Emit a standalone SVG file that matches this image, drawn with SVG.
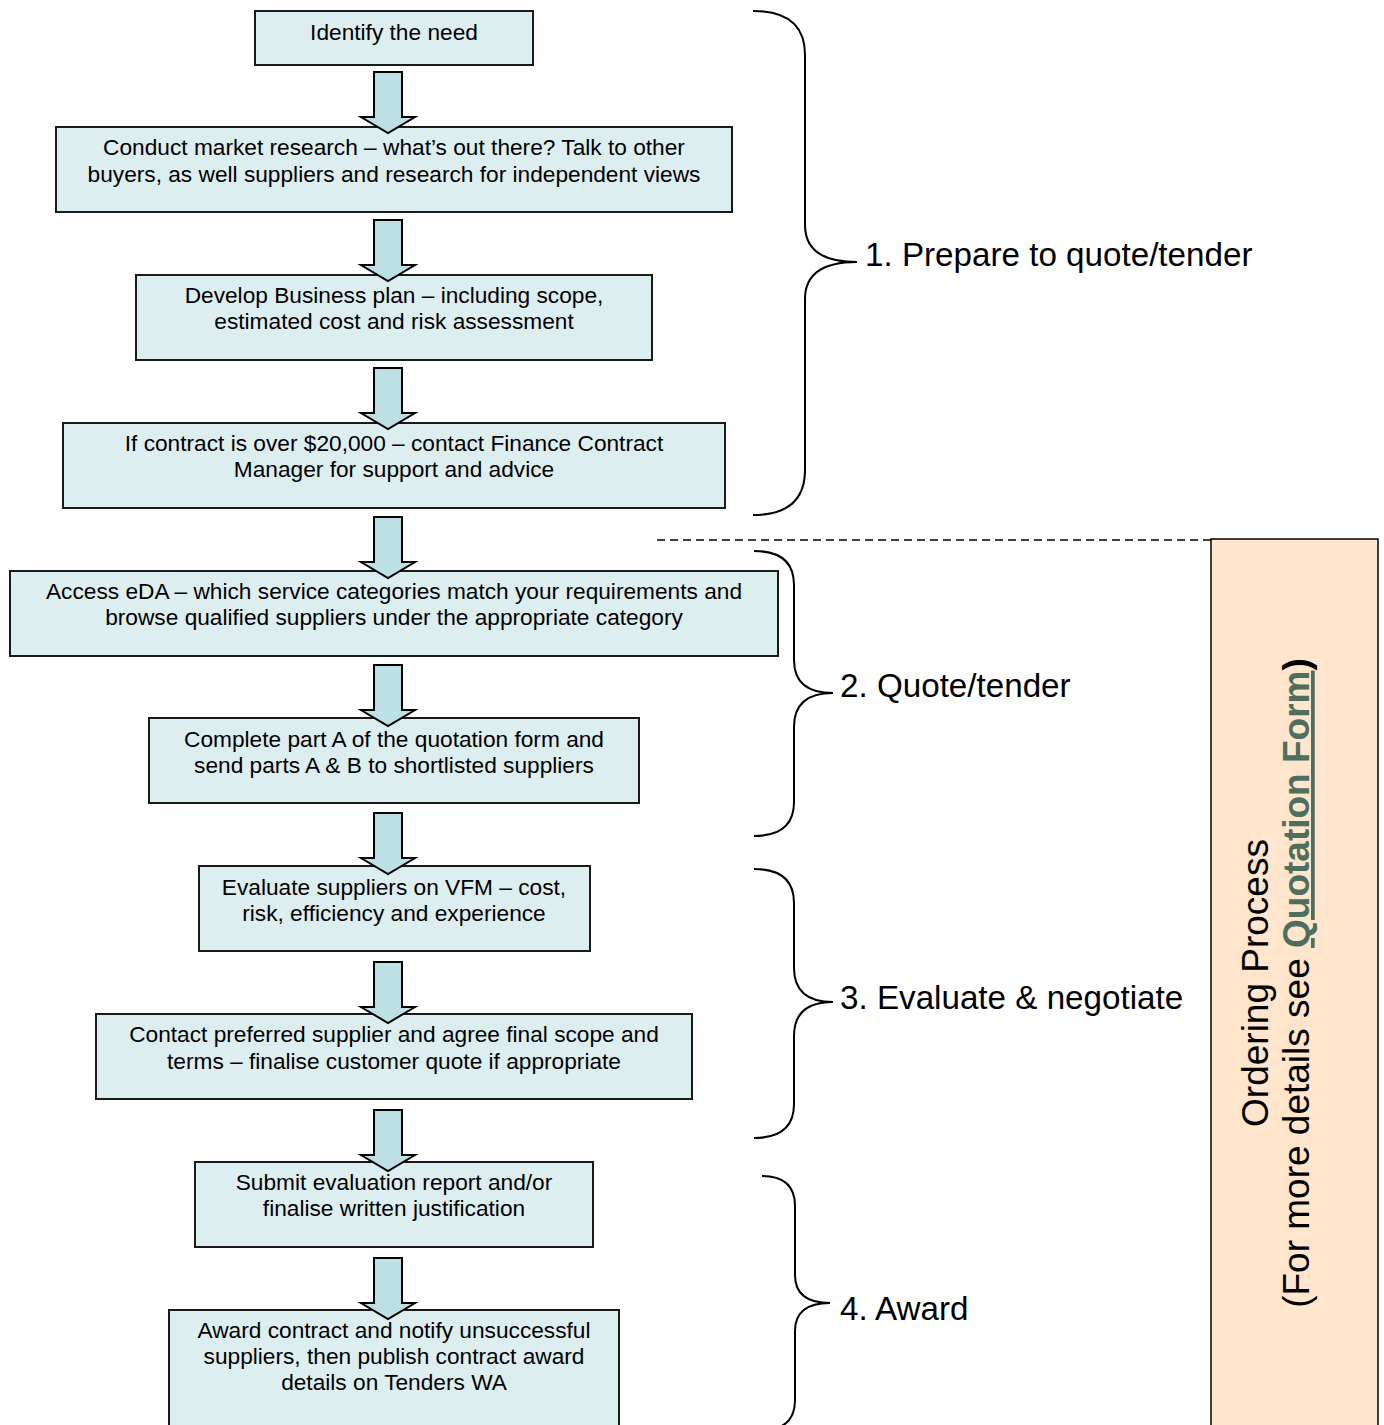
<svg xmlns="http://www.w3.org/2000/svg" xmlns:xlink="http://www.w3.org/1999/xlink" width="1384" height="1425" viewBox="0 0 1384 1425">
<style>
.box{fill:#DDEEF0;stroke:#1a1a1a;stroke-width:2}
.bt{font-family:"Liberation Sans",Arial,sans-serif;font-size:22.7px;fill:#000;text-anchor:middle}
.lbl{font-family:"Liberation Sans",Arial,sans-serif;font-size:33.2px;fill:#000}
.brace{fill:none;stroke:#000;stroke-width:2}
.arr{fill:#BCE0E4;stroke:#000;stroke-width:2;stroke-linejoin:miter}
.vt{font-family:"Liberation Sans",Arial,sans-serif;font-size:37px;fill:#000;text-anchor:middle}
</style>
<defs>
<path id="ar" class="arr" d="M-14,0 L14,0 L14,45 L27,45 L0,61 L-27,45 L-14,45 Z"/>
</defs>
<rect width="1384" height="1425" fill="#fff"/>
<g id="nodes">
<g id="n1"><rect class="box" x="255" y="11" width="278" height="54"/><text class="bt" x="394" y="40">Identify the need</text></g>
<g id="n2"><rect class="box" x="56" y="127" width="676" height="85"/><text class="bt" x="394" y="155">Conduct market research – what’s out there? Talk to other</text><text class="bt" x="394" y="182">buyers, as well suppliers and research for independent views</text></g>
<g id="n3"><rect class="box" x="136" y="275" width="516" height="85"/><text class="bt" x="394" y="303">Develop Business plan – including scope,</text><text class="bt" x="394" y="329">estimated cost and risk assessment</text></g>
<g id="n4"><rect class="box" x="63" y="423" width="662" height="85"/><text class="bt" x="394" y="451">If contract is over $20,000 – contact Finance Contract</text><text class="bt" x="394" y="477">Manager for support and advice</text></g>
<g id="n5"><rect class="box" x="10" y="571" width="768" height="85"/><text class="bt" x="394" y="599">Access eDA – which service categories match your requirements and</text><text class="bt" x="394" y="625">browse qualified suppliers under the appropriate category</text></g>
<g id="n6"><rect class="box" x="149" y="718" width="490" height="85"/><text class="bt" x="394" y="747">Complete part A of the quotation form and</text><text class="bt" x="394" y="773">send parts A &amp; B to shortlisted suppliers</text></g>
<g id="n7"><rect class="box" x="199" y="866" width="391" height="85"/><text class="bt" x="394" y="895">Evaluate suppliers on VFM – cost,</text><text class="bt" x="394" y="921">risk, efficiency and experience</text></g>
<g id="n8"><rect class="box" x="96" y="1014" width="596" height="85"/><text class="bt" x="394" y="1042">Contact preferred supplier and agree final scope and</text><text class="bt" x="394" y="1069">terms – finalise customer quote if appropriate</text></g>
<g id="n9"><rect class="box" x="195" y="1162" width="398" height="85"/><text class="bt" x="394" y="1190">Submit evaluation report and/or</text><text class="bt" x="394" y="1216">finalise written justification</text></g>
<g id="n10"><rect class="box" x="169" y="1310" width="450" height="125"/><text class="bt" x="394" y="1338">Award contract and notify unsuccessful</text><text class="bt" x="394" y="1364">suppliers, then publish contract award</text><text class="bt" x="394" y="1390">details on Tenders WA</text></g>
<g id="side"><rect x="1211" y="539" width="167" height="900" fill="#FFE5CC" stroke="#000" stroke-width="1.5"/>
<text class="vt" transform="translate(1268,983) rotate(-90)">Ordering Process</text>
<text class="vt" transform="translate(1309,983) rotate(-90)">(For more details see <tspan font-weight="bold" fill="#4E6E5E" text-decoration="underline">Quotation Form</tspan><tspan font-weight="bold">)</tspan></text>
</g>
<g id="phases">
<path class="brace" d="M753,11 Q805,11 805,55 L805,225 Q805,262 857,262 Q805,262 805,299 L805,470 Q805,515 753,515"/>
<text class="lbl" x="865" y="266">1. Prepare to quote/tender</text>
<path class="brace" d="M754,551 Q794,551 794,585 L794,660 Q794,693 833,693 Q794,693 794,727 L794,802 Q794,836 754,836"/>
<text class="lbl" x="840" y="697">2. Quote/tender</text>
<path class="brace" d="M754,869 Q794,869 794,903 L794,968 Q794,1002 833,1002 Q794,1002 794,1036 L794,1104 Q794,1138 754,1138"/>
<text class="lbl" x="840" y="1009">3. Evaluate &amp; negotiate</text>
<path class="brace" d="M762,1176 Q795,1176 795,1206 L795,1275 Q795,1303 830,1303 Q795,1303 795,1331 L795,1400 Q795,1430 762,1430"/>
<text class="lbl" x="840" y="1320">4. Award</text>
</g>
</g>
<g id="connectors">
<line x1="657" y1="540" x2="1211" y2="540" stroke="#000" stroke-width="1.5" stroke-dasharray="8,5"/>
<use href="#ar" x="388" y="72"/>
<use href="#ar" x="388" y="220"/>
<use href="#ar" x="388" y="368"/>
<use href="#ar" x="388" y="517"/>
<use href="#ar" x="388" y="665"/>
<use href="#ar" x="388" y="813"/>
<use href="#ar" x="388" y="962"/>
<use href="#ar" x="388" y="1110"/>
<use href="#ar" x="388" y="1258"/>
</g>
</svg>
